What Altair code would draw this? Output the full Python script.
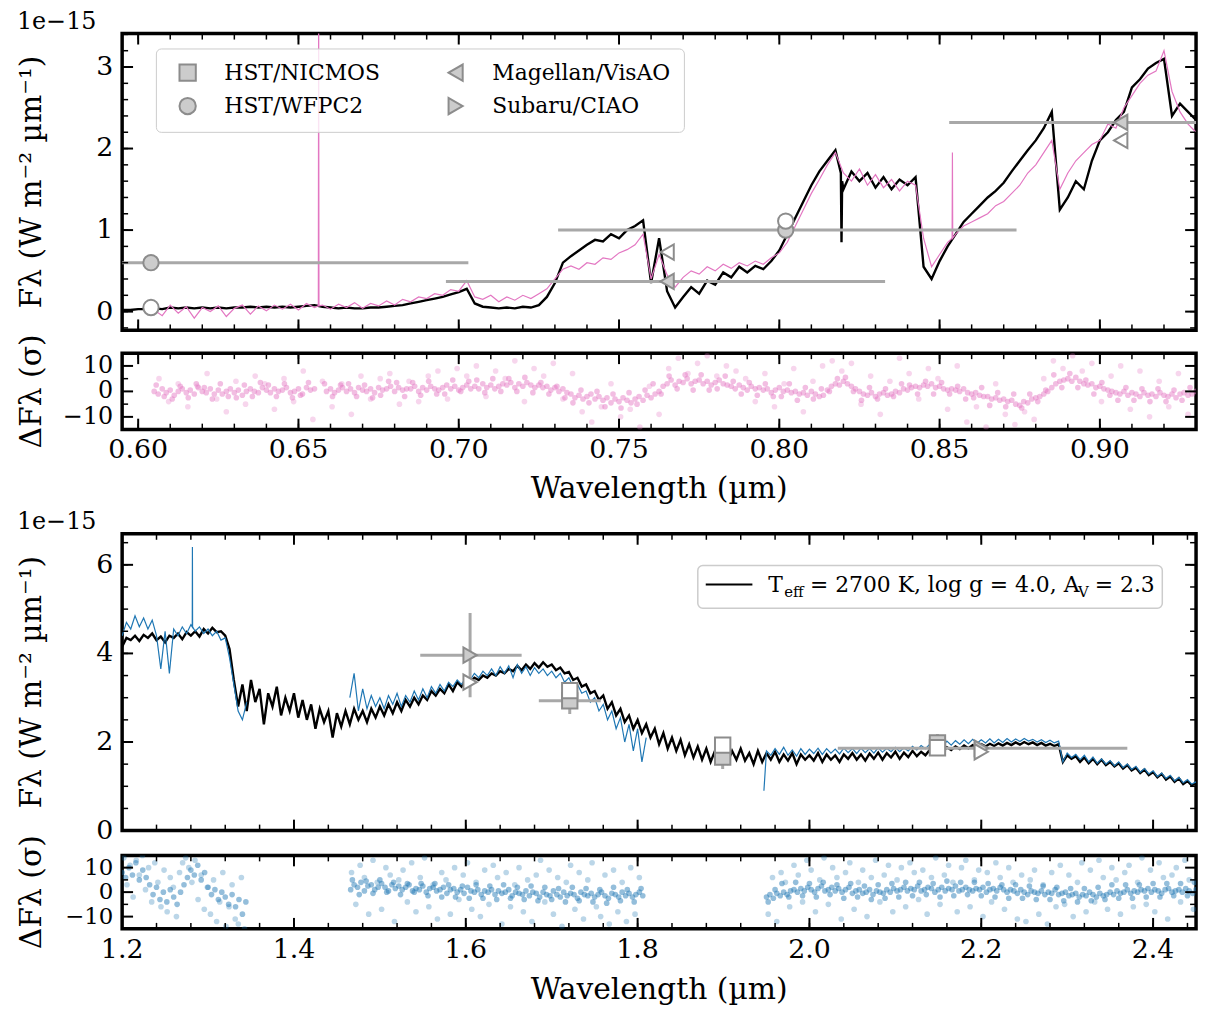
import altair as alt
import numpy as np
import pandas as pd

# ===================== DATA =====================
# ---- optical spectrum (top panel), flux in 1e-15 W m^-2 um^-1 ----
OPT_MODEL_START, OPT_MODEL_STEP = 0.595, 0.0025
opt_model_flux = [
    0.02, 0.02, 0.03, 0.03, 0.04, 0.03, 0.05, 0.04, 0.05, 0.04,
    0.05, 0.04, 0.05, 0.04, 0.05, 0.05, 0.06, 0.05, 0.06, 0.05,
    0.06, 0.05, 0.06, 0.07, 0.08, 0.06, 0.05, 0.04, 0.05, 0.04,
    0.04, 0.05, 0.05, 0.06, 0.07, 0.08, 0.10, 0.12, 0.14, 0.16,
    0.18, 0.21, 0.24, 0.28, 0.10, 0.06, 0.05, 0.04, 0.05, 0.04,
    0.06, 0.05, 0.08, 0.18, 0.35, 0.60, 0.68, 0.75, 0.82, 0.88,
    0.86, 0.95, 0.90, 1.00, 1.05, 1.12, 0.35, 0.90, 0.25, 0.05,
    0.18, 0.30, 0.22, 0.38, 0.33, 0.48, 0.42, 0.55, 0.48, 0.56,
    0.52, 0.62, 0.75, 0.95, 1.15, 1.35, 1.55, 1.72, 1.85, 1.98,
    1.50, 1.72, 1.60, 1.70, 1.52, 1.65, 1.50, 1.62, 1.55, 1.65,
    0.55, 0.40, 0.62, 0.80, 0.95, 1.10, 1.20, 1.30, 1.40, 1.48,
    1.58, 1.72, 1.85, 1.98, 2.10, 2.25, 2.45, 1.25, 1.40, 1.60,
    1.50, 1.85, 2.10, 2.20, 2.35, 2.45, 2.75, 2.85, 2.98, 3.05,
    3.10, 2.40, 2.55, 2.45, 2.35,
]
opt_model_line_wl = [0.8192, 0.8194, 0.8196]
opt_model_line_flux = [1.70, 0.85, 1.60]

OPT_OBS_START, OPT_OBS_STEP = 0.605, 0.0025
opt_obs_flux = [
    0.02, -0.05, 0.08, -0.02, 0.06, -0.08, 0.05, 0.00, 0.07, -0.06,
    0.04, 0.08, -0.03, 0.07, 0.01, 0.08, 0.03, 0.09, 0.02, 0.10,
    0.05, 0.08, 0.03, 0.09, 0.05, 0.11, 0.04, 0.10, 0.07, 0.13,
    0.08, 0.15, 0.12, 0.18, 0.16, 0.22, 0.20, 0.27, 0.25, 0.38,
    0.18, 0.15, 0.20, 0.12, 0.18, 0.14, 0.20, 0.16, 0.22, 0.28,
    0.40, 0.52, 0.56, 0.52, 0.60, 0.58, 0.66, 0.64, 0.72, 0.76,
    0.82, 0.95, 0.40, 0.70, 0.45, 0.30, 0.42, 0.50, 0.46, 0.55,
    0.50, 0.58, 0.53, 0.60, 0.56, 0.62, 0.58, 0.66, 0.72, 0.85,
    1.05, 1.25, 1.45, 1.62, 1.80, 1.95, 1.70, 1.60, 1.75, 1.55,
    1.68, 1.52, 1.62, 1.48, 1.60, 1.55, 0.90, 0.55, 0.70, 0.85,
    0.95, 1.05, 1.10, 1.15, 1.20, 1.30, 1.35, 1.45, 1.55, 1.70,
    1.80, 1.95, 2.10, 1.50, 1.70, 1.85, 1.95, 2.05, 2.10, 2.30,
    2.25, 2.50, 2.65, 2.80, 2.90, 2.95, 3.20, 2.70, 2.45, 2.30,
    2.20,
]
opt_obs_line_wl = [0.6562, 0.6563, 0.6564, 0.8539, 0.8540, 0.8541]
opt_obs_line_flux = [0.07, 4.00, 0.07, 0.90, 1.95, 0.90]

# ---- optical residuals (sigma) ----
RES_OPT_START, RES_OPT_STEP = 0.605, 0.00125
res_opt_core = [
    0, -1, 1, -0.5, 0.5, -1.5, 0, 1,
    -0.5, 0.5, -1, 1.5, 0, -0.5, 1, -1,
    0.5, -1, 0, 1, -0.5, 0.5, -1.5, 0,
    1, 0, -0.5, 1.5, 0.5, -0.5, 1, 0,
    0.5, 1.5, -0.5, 0, 1, -1, 1.5, 0.5,
    1, None, None, 0, 1, -0.5, 0.5, 1.5,
    0, 1, -0.5, 1.5, 0.5, 0, 1, -0.5,
    1.5, 0.5, 1, 2, 0, 1.5, 0.5, 1,
    1, 2, 0, 1.5, 0.5, 2, 1, 0.5,
    1.5, 2.5, 1, 2, 0.5, 1.5, 2.5, 1,
    2, 1, 3, 1.5, 2.5, 1, 2, 3,
    2.5, 3.5, 1.5, 3, 2, 3.5, 2.5, 1.5,
    2.5, 1.5, 2, 0.5, 1.5, 0, 1, -0.5,
    -1, -2.5, -1.5, -3, -2, -1, -3, -2,
    -3.5, -2.5, -4.5, -3, -4, -2.5, -3.5, -4.5,
    -3, -2, -3.5, -1.5, -2.5, -1, 0, 2,
    3, 4.5, 2.5, 4, 3.5, 5, 3, 4,
    4.5, 3, 4, 2.5, 3.5, 4.5, 3, 2.5,
    2, 1, 2.5, 1.5, 0.5, 2, 1, 1.5,
    0.5, 1, -0.5, 0.5, 1.5, 0, 0.5, -0.5,
    0, -1, -0.5, -1.5, 0, -1, -2, -1.5,
    0.5, 2, 3, 2.5, 4, 3, 2, 1,
    0, -1, -1.5, -0.5, -2, -1, -0.5, -1.5,
    -1, 0, -0.5, 1, 0.5, 1.5, 2, 1.5,
    2.5, 2, 3, 1.5, 2, 1, 0.5, 1,
    0.5, 0, 1, -0.5, -1, -0.5, -1.5, -2,
    -2, -3, -2.5, -3.5, -3, -4, -3.5, -5,
    -5.5, -4, -4.5, -3, -2.5, -2, -1, 0,
    1.5, 3, 4, 4.5, 5, 4, 5.5, 4,
    3, 2.5, 3, 1.5, 2, 1, 0.5, 0,
    -0.5, -1, 0, -1.5, -0.5, -1, -2, -0.5,
    -1.5, -1, -2, -0.5, -1.5, -2, -1, -2.5,
    -1, -0.5, -1.5, -1, 0,
]
RES_OPT_CORE2_START, RES_OPT_CORE2_STEP = 0.605625, 0.0025
res_opt_core2 = [
    2.5, -2, -3, 2, -2.5, 3, 1.5, -3, 3, -2, -2.5, 2.5,
    -2, 3.5, 2.5, -2, 3, -2.5, -1.5, 3.5, None, 3, -2, 2.5,
    3, -2, 2.5, -2.5, -1.5, 4, 3.5, -2, 3.5, -1.5, 4, -1,
    -1, 4.5, 0, 4, 4.5, -0.5, 5, 0, 5, 0, 5.5, -0.5,
    3.5, -1, 2, -2.5, -4.5, 0.5, -4.5, 0, -6, -1, -6.5, -0.5,
    -5, 0.5, 3, -1, 6, 1, 6.5, 0.5, 6.5, 0.5, 1, 6,
    4, -1, 3.5, -1.5, 3, -2, -2, 3, -3.5, 1.5, -3, 1,
    0, 5, 5.5, 0, -3.5, 1.5, -3, 1, -2, 3, 2.5, -1,
    4, -1, 3.5, -1, 2, -3, -2.5, 1.5, -5.5, -0.5, -6, -1,
    -6.5, -1, -4, 0.5, 6.5, 1.5, 7, 1.5, 4.5, -1, 3.5, -1.5,
    -3.5, 1.5, -3.5, 1, -4, 1, -4, 0.5, -3.5, 1.5,
]
RES_OPT_OUT_START, RES_OPT_OUT_STEP = 0.6065, 0.003
res_opt_scatter = [
    5, -4, 3, -6, 2, 7, -3, -8, 4, -5, 6, 3, -7, 5, -4, 8, -11, 4, -6, 3,
    -9, 6, -3, 5, 7, -5, 4, -4, 6, 8, -3, 9,
    6, 10, -2, 8, 5, 12, -4, 9, 6, 11, -3, 7,
    -8, -12, -6, 3, -10, -7, -14, 2, -9,
    9, 13, 7, 11, 14, 6, 10, 8,
    5, -4, 7, -6, 3, 9, -8, 4, 10, 12,
    8, 11, -5, 6, -9, 4, 13, 7, -3, 9,
    5, -7, 10, -12, -6, -14, 3, -9, -13, -8,
    -11, 5, 12, 9, 14, 8, 11, -4, 6, 10,
    -7, 8, -10, 4, -6, 7, -9,
]

# ---- near-IR spectrum (bottom panel) ----
NIR_MODEL_START, NIR_MODEL_STEP = 1.2, 0.005
nir_model_flux = [
    4.15, 4.35, 4.30, 4.40, 4.28, 4.42, 4.35, 4.45, 4.30, 4.38,
    4.25, 4.40, 4.35, 4.45, 4.32, 4.48, 4.40, 4.50, 4.38, 4.55,
    4.45, 4.58, 4.48, 4.50, 4.40, 4.10, 3.40, 2.80, 3.30, 2.70,
    3.40, 2.90, 3.20, 2.40, 3.10, 2.80, 3.25, 2.60, 3.00, 2.70,
    3.10, 2.55, 2.95, 2.50, 2.85, 2.30, 2.75, 2.45, 2.70, 2.10,
    2.65, 2.35, 2.70, 2.40, 2.75, 2.50, 2.70, 2.45, 2.75, 2.55,
    2.80, 2.60, 2.85, 2.65, 2.90, 2.70, 2.95, 2.80, 3.00, 2.85,
    3.05, 2.95, 3.15, 3.05, 3.20, 3.10, 3.30, 3.15, 3.35, 3.25,
    3.40, 3.35, 3.45, 3.40, 3.50, 3.45, 3.55, 3.50, 3.60, 3.55,
    3.65, 3.60, 3.72, 3.62, 3.75, 3.65, 3.78, 3.68, 3.80, 3.70,
    3.75, 3.62, 3.68, 3.55, 3.58, 3.40, 3.45, 3.25, 3.30, 3.10,
    3.15, 2.95, 3.05, 2.75, 2.90, 2.60, 2.75, 2.45, 2.60, 2.30,
    2.50, 2.20, 2.40, 2.10, 2.30, 1.95, 2.20, 1.85, 2.10, 1.80,
    2.05, 1.70, 1.95, 1.65, 1.90, 1.60, 1.85, 1.55, 1.80, 1.60,
    1.85, 1.55, 1.80, 1.60, 1.85, 1.58, 1.75, 1.50, 1.80, 1.55,
    1.75, 1.60, 1.78, 1.55, 1.72, 1.58, 1.75, 1.50, 1.72, 1.60,
    1.70, 1.58, 1.75, 1.55, 1.72, 1.60, 1.70, 1.55, 1.72, 1.62,
    1.75, 1.60, 1.72, 1.58, 1.74, 1.62, 1.76, 1.60, 1.75, 1.65,
    1.78, 1.62, 1.76, 1.66, 1.80, 1.68, 1.78, 1.70, 1.82, 1.75,
    1.85, 1.78, 1.88, 1.82, 1.90, 1.84, 1.92, 1.86, 1.93, 1.88,
    1.95, 1.90, 1.96, 1.91, 1.97, 1.92, 1.98, 1.93, 1.99, 1.94,
    2.00, 1.95, 1.99, 1.93, 1.98, 1.92, 1.96, 1.91, 1.95, 1.55,
    1.70, 1.62, 1.68, 1.55, 1.65, 1.52, 1.62, 1.50, 1.60, 1.48,
    1.55, 1.45, 1.52, 1.40, 1.48, 1.36, 1.42, 1.30, 1.38, 1.25,
    1.32, 1.20, 1.28, 1.15, 1.22, 1.10, 1.18, 1.05, 1.12, 1.02,
    1.08,
]
NIR_OBS_STEP = 0.005
nir_obs_a_start = 1.200
nir_obs_a_flux = [
    4.40, 4.70, 4.55, 4.85, 4.60, 4.80, 4.55, 4.75, 4.40, 3.65,
    4.50, 3.55, 4.55, 4.40, 4.60, 4.45, 4.65, 4.50, 4.60, 4.45,
    4.55, 4.40, 4.50, 4.30, 4.35, 3.90, 3.30, 2.70, 2.50, 2.90,
]
nir_obs_a_line_wl = [1.2816, 1.2818, 1.2820]
nir_obs_a_line_flux = [4.60, 6.40, 4.60]
nir_obs_b_start = 1.465
nir_obs_b_flux = [
    3.00, 3.55, 2.70, 3.20, 2.75, 3.05, 2.80, 3.00, 2.75, 3.05,
    2.85, 3.10, 2.80, 3.05, 2.90, 3.15, 2.95, 3.20, 3.00, 3.25,
    3.10, 3.30, 3.15, 3.35, 3.25, 3.40, 3.30, 3.45, 3.40, 3.55,
    3.45, 3.60, 3.50, 3.65, 3.50, 3.70, 3.55, 3.72, 3.45, 3.75,
    3.55, 3.70, 3.50, 3.68, 3.55, 3.65, 3.50, 3.60, 3.45, 3.55,
    3.35, 3.45, 3.25, 3.30, 3.10, 3.15, 2.90, 3.00, 2.70, 2.85,
    2.50, 2.70, 2.30, 2.55, 2.00, 2.40, 1.80, 2.30, 1.55, 2.10,
]
nir_obs_c_start = 1.950
nir_obs_c_flux = [
    1.80, 1.70, 1.85, 1.72, 1.88, 1.70, 1.82, 1.68, 1.85, 1.72,
    1.84, 1.74, 1.86, 1.72, 1.85, 1.75, 1.84, 1.73, 1.86, 1.76,
    1.85, 1.74, 1.86, 1.76, 1.85, 1.75, 1.87, 1.77, 1.86, 1.78,
    1.88, 1.78, 1.87, 1.80, 1.90, 1.82, 1.92, 1.85, 1.95, 1.88,
    1.97, 1.90, 2.02, 1.93, 2.03, 1.95, 2.05, 1.96, 2.06, 1.97,
    2.05, 1.98, 2.07, 1.98, 2.06, 1.99, 2.08, 2.00, 2.07, 2.01,
    2.08, 2.02, 2.06, 2.00, 2.05, 1.99, 2.04, 1.98, 2.02, 1.55,
    1.75, 1.65, 1.72, 1.60, 1.70, 1.55, 1.66, 1.52, 1.62, 1.50,
    1.58, 1.46, 1.55, 1.42, 1.50, 1.38, 1.45, 1.32, 1.40, 1.28,
    1.35, 1.22, 1.30, 1.18, 1.25, 1.12, 1.20, 1.08, 1.15, 1.05,
    1.10,
]
nir_obs_c_line_wl = [1.947]
nir_obs_c_line_flux = [0.90]

# ---- near-IR residuals (sigma) ----
RES_NIR_STEP = 0.004
res_nir_a_start = 1.200
res_nir_a_core = [
    8, 6, 10, 7, 12, 5, 9, 6, 3, -1, 2, -3, 0, -4, 1, -2, -5, 0, 3, 6,
    9, 7, 11, 5, 8, 2, -1, 1, -3, 0, -2, -5, -1, -6, -3, -9, -4,
]
res_nir_b_start = 1.466
res_nir_b_core = [
    1, 3, 2, 4, 0.5, 2.5, 3, 1, 2, 3.5,
    2, 0.5, 3, 1.5, 2.5, 1, 2, 3, 0.5, 1.5,
    1, 2.5, 0, 1.5, 2, 0.5, 1, 2, -0.5, 1,
    1.5, 0, 1, -0.5, 2, 0.5, 0, 1, -1, 0.5,
    0, 1, -1, 0.5, -0.5, 0, 1, -1.5, 0, -0.5,
    -1, 0.5, -1.5, 0, -0.5, -2, 0, -1, -1.5, 0.5,
    -1, -2, 0, -1.5, -0.5, -1, -2.5, 0, -1, -1.5,
    -0.5, -2, -1, 0, -1.5, -2.5, -0.5, -1, -2, 0,
    -1.5, -0.5, -2, -1, 0, -1.5,
]
res_nir_c_start = 1.950
res_nir_c_core = [
    -2, -1, -2.5, -0.5, -1.5, 0, -1, 0.5, 1, 0,
    1.5, 0.5, 2, 1, 0, 1.5, 2.5, 0.5, 1, 2,
    0.5, 1.5, 0, 1, 2, -0.5, 0.5, 1, -0.5, 0,
    1, -1, 0.5, 0, -0.5, 1, 0, 1.5, 0.5, 1,
    2, 0.5, 1.5, 1, 2.5, 0.5, 1, 2, 1.5, 0,
    1, 2, 0.5, 1.5, 1, 2.5, 0.5, 1, 2, 1,
    0.5, 1.5, 1, 2, 0, 1, 1.5, 0.5, 2, 1,
    0, 1, 0.5, -0.5, 1, 0, -1, 0.5, 0, -0.5,
    0.5, -1, 0, -0.5, 1, -1, -0.5, 0, -1.5, -1,
    -0.5, -2, -1, -1.5, 0, -1, -2, -0.5, -1.5, -1,
    0, -1, 0.5, -0.5, 0, 1, -0.5, 0.5, 0, 1,
    0.5, 1.5, 0, 1, 0.5, -0.5, 1, 1.5, 0, 0.5,
    1, 0, 1.5, 0.5, -0.5, 1,
]
RES_NIR_CORE2_STEP = 0.008
res_nir_b2_start = 1.468
res_nir_b_core2 = [
    5, -1, 4.5, -0.5, 5, 0, 4, -1, 3.5, 0,
    3.5, -1.5, 3.5, -2, 3, -2, 2.5, -2.5, 3, -2.5,
    2.5, -3, 3, -2.5, 2, -3, 2.5, -3.5, 2, -3,
    1.5, -4, 2, -3.5, 1.5, -4, 1, -4.5, 2, -3.5,
    1, -4, 1.5,
]
res_nir_c2_start = 1.952
res_nir_c_core2 = [
    -4, 1, 3.5, -2, 4, -1.5, 3.5, -2, 4, -1,
    3, -2.5, 3.5, -2, 2.5, -3, 3, -2.5, 3.5, -2,
    4, -1.5, 4, -1, 3.5, -2, 4.5, -1.5, 4, -1,
    4, -1.5, 3.5, -2, 3, -2.5, 3, -2.5, 2.5, -3,
    2.5, -3, 2, -3.5, 1.5, -4, 1.5, -3.5, 2, -3,
    3, -2.5, 3, -2.5, 3, -2, 3.5, -2, 3.5, -1.5,
    3.5, -1.5, 4,
]
res_nir_a_sc_start, res_nir_a_sc_step = 1.202, 0.0036
res_nir_a_scatter = [
    14, 3, 11, -2, 13, 7, 15, 1, 10, -4, 12, 4, -6, 9, -8, 6, 2, -10, 8, 12,
    14, 10, 4, 13, -3, 7, -7, 2, -9, 5, -12, -4, 8, -14, -6, 3, -11, -13, 6, -15,
]
res_nir_b_sc_start, res_nir_b_sc_step = 1.467, 0.005
res_nir_b_scatter = [
    8, -5, 11, 6, -9, 13, 4, -7, 10, 7, -12, 5, 9, -4, 12, -8, 6, 14, -6, 3,
    -11, 8, 5, -9, 10, -3, 7, 12, -7, 4, -10, 9, -5, 11, 6, -13, 8, -6, 3, 10,
    -8, 5, -12, 7, 13, -4, 9, -9, 6, -14, 4, 11, -7, 8, -11, 5, 12, -6, -10, 7,
    -13, 9, -8, 4, -12, 10, -9, 6,
]
res_nir_c_sc_start, res_nir_c_sc_step = 1.952, 0.005
res_nir_c_scatter = [
    -9, 6, -12, 8, 4, -6, 11, 7, -4, 13, 9, -8, 5, 14, -5, 10, 6, -11, 8, 12,
    -7, 4, 9, -10, 6, 13, -4, 7, 11, -8, 5, 10, -6, 12, 8, -3, 9, -9, 6, 14,
    -5, 7, 11, 4, -8, 10, 13, -6, 5, 9, -10, 8, -4, 12, 6, -7, 10, 4, -11, 7,
    -12, 5, 9, -9, 3, -13, 8, -6, 11, -5, 7, -10, 4, 12, -8, 9, -4, 13, 6, -7,
    10, 5, -9, 8, 11, -6, 4, 14, -5, 9, -8, 12, 6, -11, 7, 10, -4, 13, 5, -7,
]

# ---- photometry ----
INSTRUMENTS = ["HST/NICMOS", "HST/WFPC2", "Magellan/VisAO", "Subaru/CIAO"]
INST_SHAPES = ["square", "circle", "triangle-left", "triangle-right"]

phot_opt_inst = ["HST/WFPC2", "HST/WFPC2", "Magellan/VisAO", "Magellan/VisAO"]
phot_opt_wl = [0.604, 0.802, 0.765, 0.9065]
phot_opt_wl_lo = [0.470, 0.731, 0.696, 0.853]
phot_opt_wl_hi = [0.703, 0.874, 0.833, 0.970]
phot_opt_flux = [0.60, 1.00, 0.37, 2.32]
phot_opt_err = [0.03, 0.03, 0.03, 0.05]
synth_opt_flux = [0.05, 1.11, 0.73, 2.10]

phot_nir_inst = ["Subaru/CIAO", "HST/NICMOS", "HST/NICMOS", "HST/NICMOS", "Subaru/CIAO"]
phot_nir_wl = [1.605, 1.721, 1.899, 2.149, 2.200]
phot_nir_wl_lo = [1.547, 1.685, 1.899, 2.149, 2.033]
phot_nir_wl_hi = [1.665, 1.757, 1.899, 2.149, 2.370]
phot_nir_flux = [3.96, 2.93, 1.66, 1.98, 1.86]
phot_nir_err = [0.95, 0.30, 0.27, 0.20, 0.06]
synth_nir_flux = [3.35, 3.16, 1.93, 1.87, 1.78]

# ---- axes (ticks and tick labels) ----
XD_OPT, YD_OPT = [0.595, 0.93], [-0.23, 3.41]
XD_NIR, YD_NIR = [1.2, 2.45], [0.0, 6.7]
YD_RES = [-15, 15]
opt_x_major = [0.60, 0.65, 0.70, 0.75, 0.80, 0.85, 0.90]
opt_x_labels = ["0.60", "0.65", "0.70", "0.75", "0.80", "0.85", "0.90"]
opt_x_minor = [round(0.60 + 0.01 * k, 3) for k in range(33)]
nir_x_major = [1.2, 1.4, 1.6, 1.8, 2.0, 2.2, 2.4]
nir_x_labels = ["1.2", "1.4", "1.6", "1.8", "2.0", "2.2", "2.4"]
nir_x_minor = [round(1.2 + 0.04 * k, 3) for k in range(32)]
opt_y_major = [0, 1, 2, 3]
opt_y_labels = ["0", "1", "2", "3"]
opt_y_minor = [round(-0.2 + 0.2 * k, 2) for k in range(19)]
nir_y_major = [0, 2, 4, 6]
nir_y_labels = ["0", "2", "4", "6"]
nir_y_minor = [0.5 * k for k in range(1, 14)]
res_y_major = [-10, 0, 10]
res_y_labels = ["−10", "0", "10"]
res_y_minor = [-5, 5]

# ===================== STYLE =====================
W = 1082
H_SPEC, H_RES1, H_RES2 = 299, 77, 74
FONT = "DejaVu Serif"
PINK, BLUE = "#e377c2", "#1f77b4"
BAR, MEDGE, MFILL = "#a8a8a8", "#8c8c8c", "#cccccc"
LAB, LAB_RES1, LAB_RES2, TIT = 27, 24, 23, 30
YTITLE_X = -91
MSIZE = 240


def X(field, dom):
    return alt.X(f"{field}:Q", scale=alt.Scale(domain=dom, nice=False, zero=False), axis=None)


def Y(field, dom):
    return alt.Y(f"{field}:Q", scale=alt.Scale(domain=dom, nice=False, zero=False), axis=None)


def spectrum_df(start, step, vals, extra_wl=(), extra_f=(), seg=0):
    df = pd.DataFrame({"wl": np.round(start + step * np.arange(len(vals)), 5), "flux": vals})
    if len(extra_wl):
        df = pd.concat([df, pd.DataFrame({"wl": list(extra_wl), "flux": list(extra_f)})])
    df = df.sort_values("wl").reset_index(drop=True)
    df["seg"] = seg
    return df


def res_df(start, step, vals):
    return pd.DataFrame({"wl": np.round(start + step * np.arange(len(vals)), 6),
                         "res": [np.nan if v is None else float(v) for v in vals]}).dropna()


def tick_layers(xdom, ydom, H, xmaj, xmin, ymaj, ymin):
    out = []
    for vals, L, w in ((xmin, 6, 1.5), (xmaj, 11, 2)):
        vals = [v for v in vals if xdom[0] < v < xdom[1]]
        base = alt.Chart(pd.DataFrame({"t": vals})).mark_rule(color="black", strokeWidth=w)
        out.append(base.encode(x=X("t", xdom), y=alt.value(H), y2=alt.value(H - L)))
        out.append(base.encode(x=X("t", xdom), y=alt.value(0), y2=alt.value(L)))
    for vals, L, w in ((ymin, 6, 1.5), (ymaj, 11, 2)):
        vals = [v for v in vals if ydom[0] < v < ydom[1]]
        base = alt.Chart(pd.DataFrame({"t": vals})).mark_rule(color="black", strokeWidth=w)
        out.append(base.encode(y=Y("t", ydom), x=alt.value(0), x2=alt.value(L)))
        out.append(base.encode(y=Y("t", ydom), x=alt.value(W), x2=alt.value(W - L)))
    return out


def x_labels(vals, labels, xdom, H):
    return alt.Chart(pd.DataFrame({"t": vals, "lab": labels})).mark_text(
        font=FONT, fontSize=LAB, color="black", align="center", baseline="middle").encode(
        x=X("t", xdom), y=alt.value(H + 21), text="lab:N")


def y_labels(vals, labels, ydom, size=LAB):
    return alt.Chart(pd.DataFrame({"t": vals, "lab": labels})).mark_text(
        font=FONT, fontSize=size, color="black", align="right", baseline="middle").encode(
        y=Y("t", ydom), x=alt.value(-9), text="lab:N")


one = pd.DataFrame({"a": [0]})


def free_text(txt, x, y, size, align="left", baseline="alphabetic", angle=0):
    return alt.Chart(one).mark_text(text=txt, align=align, baseline=baseline, font=FONT,
                                    fontSize=size, color="black", angle=angle).encode(
        x=alt.value(x), y=alt.value(y))


def y_title(txt, H):
    return free_text(txt, YTITLE_X, H / 2, TIT, align="center", baseline="middle", angle=270)


def x_title(H, dy):
    return free_text("Wavelength (µm)", W / 2, H + dy, TIT, align="center", baseline="middle")


def phot_layers(df, xdom, ydom, legend):
    hbar = alt.Chart(df).mark_rule(color=BAR, strokeWidth=3, clip=True).encode(
        x=X("lo", xdom), x2="hi:Q", y=Y("flux", ydom))
    vbar = alt.Chart(df).mark_rule(color=BAR, strokeWidth=3, clip=True).encode(
        x=X("wl", xdom), y=Y("ylo", ydom), y2="yhi:Q")
    layers = [hbar, vbar]
    if legend:
        layers.append(alt.Chart(df).mark_point(filled=False, fill=MFILL, stroke=MEDGE, fillOpacity=1,
                                               strokeWidth=2, size=MSIZE, opacity=1).encode(
            x=X("wl", xdom), y=Y("flux", ydom),
            shape=alt.Shape("inst:N", scale=alt.Scale(domain=INSTRUMENTS, range=INST_SHAPES),
                            legend=alt.Legend(
                                orient="none", legendX=34, legendY=15, columns=2, title=None,
                                labelFont=FONT, labelFontSize=22, labelColor="black", labelLimit=0,
                                symbolSize=270, symbolStrokeWidth=2,
                                symbolOffset=8, labelOffset=26,
                                padding=13, rowPadding=8, columnPadding=57,
                                fillColor="rgba(255,255,255,0.8)", strokeColor="#cccccc",
                                cornerRadius=5))))
    for inst, shp in zip(INSTRUMENTS, INST_SHAPES):
        sub = df[df["inst"] == inst]
        if len(sub) == 0:
            continue
        if not legend:
            layers.append(alt.Chart(sub).mark_point(shape=shp, filled=True, fill=MFILL, stroke=MEDGE,
                                                    strokeWidth=2, size=MSIZE, opacity=1).encode(
                x=X("wl", xdom), y=Y("flux", ydom)))
        layers.append(alt.Chart(sub).mark_point(shape=shp, filled=True, fill="white", stroke=MEDGE,
                                                strokeWidth=2, size=MSIZE, opacity=1).encode(
            x=X("wl", xdom), y=Y("synth", ydom)))
    return layers


FLUX_TITLE = "Fλ (W m⁻² µm⁻¹)"
RES_TITLE = "ΔFλ (σ)"
title_kw = dict(anchor="start", font=FONT, fontSize=24, fontWeight="normal", color="black", offset=-1)

# ===================== PANEL 1: optical spectrum =====================
opt_model = spectrum_df(OPT_MODEL_START, OPT_MODEL_STEP, opt_model_flux,
                        opt_model_line_wl, opt_model_line_flux)
opt_obs = spectrum_df(OPT_OBS_START, OPT_OBS_STEP, opt_obs_flux,
                      opt_obs_line_wl, opt_obs_line_flux)
phot_opt = pd.DataFrame({"inst": phot_opt_inst, "wl": phot_opt_wl, "lo": phot_opt_wl_lo,
                         "hi": phot_opt_wl_hi, "flux": phot_opt_flux,
                         "ylo": np.array(phot_opt_flux) - np.array(phot_opt_err),
                         "yhi": np.array(phot_opt_flux) + np.array(phot_opt_err),
                         "synth": synth_opt_flux})

p1_layers = [
    alt.Chart(opt_model).mark_line(color="black", strokeWidth=2.4, clip=True).encode(
        x=X("wl", XD_OPT), y=Y("flux", YD_OPT)),
    alt.Chart(opt_obs).mark_line(color=PINK, strokeWidth=1.2, clip=True).encode(
        x=X("wl", XD_OPT), y=Y("flux", YD_OPT)),
] + phot_layers(phot_opt, XD_OPT, YD_OPT, True) + tick_layers(
    XD_OPT, YD_OPT, H_SPEC, opt_x_major, opt_x_minor, opt_y_major, opt_y_minor) + [
    y_labels(opt_y_major, opt_y_labels, YD_OPT), y_title(FLUX_TITLE, H_SPEC)]
p1 = alt.layer(*p1_layers).properties(width=W, height=H_SPEC,
                                      title=alt.TitleParams("1e−15", **title_kw))

# ===================== PANEL 2: optical residuals =====================
r1_core = pd.concat([res_df(RES_OPT_START, RES_OPT_STEP, res_opt_core),
                     res_df(RES_OPT_CORE2_START, RES_OPT_CORE2_STEP, res_opt_core2)])
r1_sc = res_df(RES_OPT_OUT_START, RES_OPT_OUT_STEP, res_opt_scatter)
p2_layers = [
    alt.Chart(r1_core).mark_circle(size=32, opacity=0.48, color=PINK, clip=True).encode(
        x=X("wl", XD_OPT), y=Y("res", YD_RES)),
    alt.Chart(r1_sc).mark_circle(size=32, opacity=0.3, color=PINK, clip=True).encode(
        x=X("wl", XD_OPT), y=Y("res", YD_RES)),
] + tick_layers(XD_OPT, YD_RES, H_RES1, opt_x_major, opt_x_minor, res_y_major, res_y_minor) + [
    x_labels(opt_x_major, opt_x_labels, XD_OPT, H_RES1), x_title(H_RES1, 60),
    y_labels(res_y_major, res_y_labels, YD_RES, LAB_RES1), y_title(RES_TITLE, H_RES1)]
p2 = alt.layer(*p2_layers).properties(width=W, height=H_RES1)

# ===================== PANEL 3: near-IR spectrum =====================
nir_model = spectrum_df(NIR_MODEL_START, NIR_MODEL_STEP, nir_model_flux)
nir_obs = pd.concat([
    spectrum_df(nir_obs_a_start, NIR_OBS_STEP, nir_obs_a_flux, nir_obs_a_line_wl, nir_obs_a_line_flux, 0),
    spectrum_df(nir_obs_b_start, NIR_OBS_STEP, nir_obs_b_flux, seg=1),
    spectrum_df(nir_obs_c_start, NIR_OBS_STEP, nir_obs_c_flux, nir_obs_c_line_wl, nir_obs_c_line_flux, 2),
])
phot_nir = pd.DataFrame({"inst": phot_nir_inst, "wl": phot_nir_wl, "lo": phot_nir_wl_lo,
                         "hi": phot_nir_wl_hi, "flux": phot_nir_flux,
                         "ylo": np.array(phot_nir_flux) - np.array(phot_nir_err),
                         "yhi": np.array(phot_nir_flux) + np.array(phot_nir_err),
                         "synth": synth_nir_flux})

legend2 = [
    alt.Chart(one).mark_rect(fill="white", fillOpacity=0.8, stroke="#cccccc", strokeWidth=1.5,
                             cornerRadius=5).encode(
        x=alt.value(580), x2=alt.value(1048), y=alt.value(32), y2=alt.value(75)),
    alt.Chart(one).mark_rule(color="black", strokeWidth=2).encode(
        x=alt.value(588), x2=alt.value(635), y=alt.value(51)),
    free_text("T", 651, 59, 22),
    free_text("eff", 667, 64, 15),
    free_text("= 2700 K, log g = 4.0, A", 693, 59, 22),
    free_text("V", 963, 64, 15),
    free_text("= 2.3", 980, 59, 22),
]

p3_layers = [
    alt.Chart(nir_model).mark_line(color="black", strokeWidth=2.4, clip=True).encode(
        x=X("wl", XD_NIR), y=Y("flux", YD_NIR)),
    alt.Chart(nir_obs).mark_line(color=BLUE, strokeWidth=1.2, clip=True).encode(
        x=X("wl", XD_NIR), y=Y("flux", YD_NIR), detail="seg:N"),
] + phot_layers(phot_nir, XD_NIR, YD_NIR, False) + legend2 + tick_layers(
    XD_NIR, YD_NIR, H_SPEC, nir_x_major, nir_x_minor, nir_y_major, nir_y_minor) + [
    y_labels(nir_y_major, nir_y_labels, YD_NIR), y_title(FLUX_TITLE, H_SPEC)]
p3 = alt.layer(*p3_layers).properties(width=W, height=H_SPEC,
                                      title=alt.TitleParams("1e−15", **title_kw))

# ===================== PANEL 4: near-IR residuals =====================
r2_core = pd.concat([res_df(res_nir_a_start, RES_NIR_STEP, res_nir_a_core),
                     res_df(res_nir_b_start, RES_NIR_STEP, res_nir_b_core),
                     res_df(res_nir_c_start, RES_NIR_STEP, res_nir_c_core),
                     res_df(res_nir_b2_start, RES_NIR_CORE2_STEP, res_nir_b_core2),
                     res_df(res_nir_c2_start, RES_NIR_CORE2_STEP, res_nir_c_core2)])
r2_sc = pd.concat([res_df(res_nir_a_sc_start, res_nir_a_sc_step, res_nir_a_scatter),
                   res_df(res_nir_b_sc_start, res_nir_b_sc_step, res_nir_b_scatter),
                   res_df(res_nir_c_sc_start, res_nir_c_sc_step, res_nir_c_scatter)])
p4_layers = [
    alt.Chart(r2_core).mark_circle(size=32, opacity=0.48, color=BLUE, clip=True).encode(
        x=X("wl", XD_NIR), y=Y("res", YD_RES)),
    alt.Chart(r2_sc).mark_circle(size=32, opacity=0.3, color=BLUE, clip=True).encode(
        x=X("wl", XD_NIR), y=Y("res", YD_RES)),
] + tick_layers(XD_NIR, YD_RES, H_RES2, nir_x_major, nir_x_minor, res_y_major, res_y_minor) + [
    x_labels(nir_x_major, nir_x_labels, XD_NIR, H_RES2), x_title(H_RES2, 62),
    y_labels(res_y_major, res_y_labels, YD_RES, LAB_RES2), y_title(RES_TITLE, H_RES2)]
p4 = alt.layer(*p4_layers).properties(width=W, height=H_RES2)

# ===================== COMPOSE =====================
top = alt.vconcat(p1, p2, spacing=-1).resolve_scale(shape="independent")
bottom = alt.vconcat(p3, p4, spacing=-13).resolve_scale(shape="independent")
chart = alt.vconcat(top, bottom, spacing=2).resolve_scale(shape="independent").properties(
    padding={"left": 7, "right": 4, "top": -4, "bottom": 2}
).configure(background="white").configure_view(stroke="black", strokeWidth=3.5)

chart.save("out.html", embed_options={"renderer": "svg", "actions": False})
